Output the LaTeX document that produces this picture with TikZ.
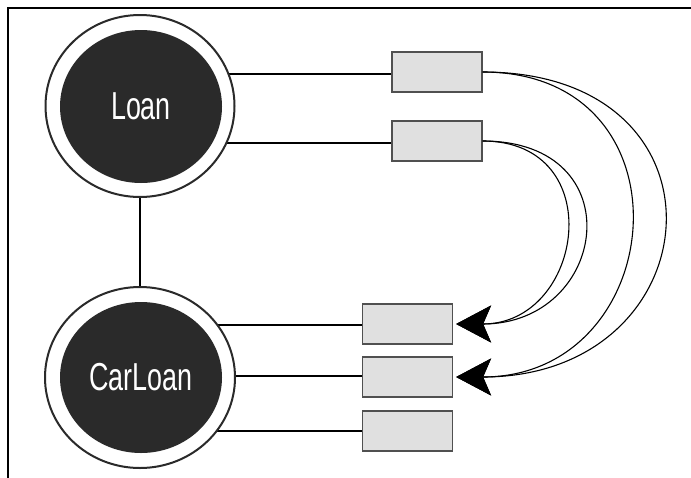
\documentclass[tikz,border=0pt]{standalone}
\usepackage{fontspec}
\usetikzlibrary{shapes.geometric,arrows.meta,backgrounds}
\newfontfamily\classfont[FakeStretch=0.69]{Liberation Sans}
\definecolor{discdark}{HTML}{2A2A2A}
\definecolor{slotfill}{HTML}{E0E0E0}
\definecolor{slotedge}{HTML}{505050}
\tikzset{
  ring/.style={ellipse, draw=discdark, line width=2pt, fill=white, inner sep=0pt},
  disc/.style={ellipse, fill=discdark, inner sep=0pt, text=white,
    font=\classfont\fontsize{39}{39}\selectfont},
  slot/.style={rectangle, draw=slotedge, line width=1.2pt, fill=slotfill,
    minimum width=90pt, minimum height=40pt, inner sep=0pt},
  link/.style={draw=black, line width=2pt},
  ref/.style={draw=black, line width=1.1pt,
    -{Stealth[length=35pt, width=37pt, inset=8pt]}},
}
\begin{document}
\begin{tikzpicture}[x=1pt, y=-1pt]
  \useasboundingbox (0,0) rectangle (691,477);
  \clip (0,0) rectangle (691,477);

  % frame, open to the right and bottom
  \draw[line width=2pt] (695,8) -| (8,481);

  % class discs
  \node[ring, minimum width=189pt, minimum height=182pt] (loan) at (140,106) {};
  \node[disc, minimum width=162pt, minimum height=153pt] (loanin) at (141,106.5) {Loan};
  \node[ring, minimum width=190pt, minimum height=181pt] (carloan) at (140,377.5) {};
  \node[disc, minimum width=162pt, minimum height=151pt] (carloanin) at (141,377.5) {CarLoan};

  % member slots
  \node[slot] (s1) at (437,72) {};
  \node[slot] (s2) at (437,141) {};
  \node[slot] (s3) at (407.5,324) {};
  \node[slot] (s4) at (407.5,377) {};
  \node[slot] (s5) at (407.5,431) {};

  \begin{scope}[on background layer]
    \draw[link] (loan) -- (carloan);
    \draw[link] ([yshift=-2pt]s1.west) -- ([yshift=-2pt]s1.west -| loan.center);
    \draw[link] ([yshift=-2pt]s2.west) -- ([yshift=-2pt]s2.west -| loan.center);
    \draw[link] ([yshift=-1pt]s3.west) -- ([yshift=-1pt]s3.west -| carloan.center);
    \draw[link] ([yshift=1pt]s4.west) -- ([yshift=1pt]s4.west -| carloan.center);
    \draw[link] (s5.west) -- (s5.west -| carloan.center);
  \end{scope}

  % overriding references
  \draw[ref] (s1.east) .. controls +(258,0) and +(258,0) .. ([xshift=3pt]s4.east);
  \draw[ref] (s1.east) .. controls +(214,0) and +(214,0) .. ([xshift=3pt]s4.east);
  \draw[ref] (s2.east) .. controls +(152,0) and +(152,0) .. ([xshift=3pt]s3.east);
  \draw[ref] (s2.east) .. controls +(128,0) and +(128,0) .. ([xshift=3pt]s3.east);
\end{tikzpicture}
\end{document}
